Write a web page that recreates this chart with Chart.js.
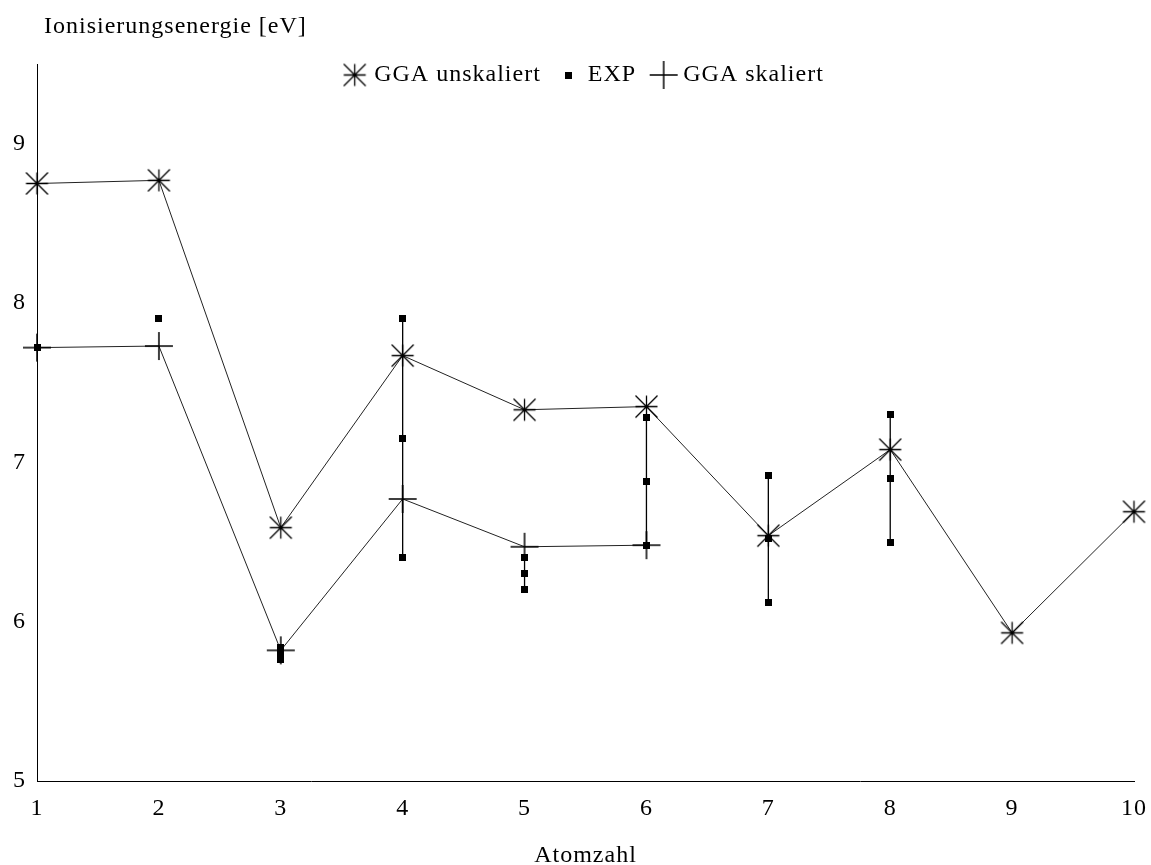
<!DOCTYPE html>
<html lang="de">
<head>
<meta charset="utf-8">
<title>Ionisierungsenergie</title>
<script src="https://cdn.jsdelivr.net/npm/chart.js@4/dist/chart.umd.min.js"></script>
<style>
  html, body { margin: 0; padding: 0; background: #fff; }
  .chart-box { width: 1151px; height: 865px; }
</style>
</head>
<body>
<div class="chart-box"><canvas id="ionChart"></canvas></div>
<script>
const atomNumbers = [1, 2, 3, 4, 5, 6, 7, 8, 9, 10];
const ggaUnscaled = [8.75, 8.77, 6.59, 7.67, 7.33, 7.35, 6.54, 7.08, 5.93, 6.69];
const ggaScaled = [7.72, 7.73, 5.82, 6.77, 6.47, 6.48];
// experimental values, several per atom number (joined by a vertical line)
const expValues = [
  [7.72],
  [7.90],
  [5.84, 5.80, 5.76],
  [7.90, 7.15, 6.40],
  [6.40, 6.30, 6.20],
  [7.28, 6.88, 6.48],
  [6.92, 6.52, 6.12],
  [7.30, 6.90, 6.50],
];
const yTicks = [5, 6, 7, 8, 9];

const FONT = '"Liberation Serif", "Times New Roman", serif';
Chart.defaults.font.family = FONT;
Chart.defaults.font.size = 24;
Chart.defaults.color = "#000";

// small canvases used as point markers (chart and legend)
function makeMarker(size, draw) {
  const c = document.createElement("canvas");
  c.width = size;
  c.height = size;
  const g = c.getContext("2d");
  g.strokeStyle = "#000";
  g.fillStyle = "#000";
  draw(g, size / 2);
  return c;
}
const starMarker = makeMarker(25, (g, c) => {
  const r = 11;
  g.lineWidth = 1.3;
  g.beginPath();
  g.moveTo(c - r, c); g.lineTo(c + r, c);
  g.moveTo(c, c - r); g.lineTo(c, c + r);
  g.moveTo(c - r, c - r); g.lineTo(c + r, c + r);
  g.moveTo(c - r, c + r); g.lineTo(c + r, c - r);
  g.stroke();
});
const plusMarker = makeMarker(30, (g, c) => {
  const r = 14;
  g.lineWidth = 1.5;
  g.beginPath();
  g.moveTo(c - r, c); g.lineTo(c + r, c);
  g.moveTo(c, c - r); g.lineTo(c, c + r);
  g.stroke();
});
const squareMarker = makeMarker(7, (g) => {
  g.fillRect(0, 0, 7, 7);
});

// EXP points, with a null after each atom so only same-atom values get connected
const expPoints = [];
expValues.forEach((vals, i) => {
  vals.forEach((v) => expPoints.push({ x: atomNumbers[i], y: v }));
  expPoints.push({ x: atomNumbers[i], y: null });
});

// letter spacing for all canvas text
const textSpacing = {
  id: "textSpacing",
  beforeUpdate(chart) { chart.ctx.letterSpacing = "1px"; },
  beforeDraw(chart) { chart.ctx.letterSpacing = "1px"; },
};

// move the legend down into the top of the plot area
const legendInPlot = {
  id: "legendInPlot",
  afterLayout(chart, args, opts) {
    const legend = chart.legend;
    const labels = legend.options.labels;
    const dy = opts.centerY - (legend.top + labels.padding + 12);
    legend.top += dy;
    legend.bottom += dy;
  },
};

// horizontal y axis caption above the axis
const yCaption = {
  id: "yCaption",
  afterDraw(chart, args, opts) {
    const ctx = chart.ctx;
    ctx.save();
    ctx.font = "24px " + FONT;
    ctx.fillStyle = "#000";
    ctx.textAlign = "left";
    ctx.textBaseline = "alphabetic";
    ctx.fillText(opts.text, opts.x, opts.y);
    ctx.restore();
  },
};

new Chart("ionChart", {
  type: "line",
  data: {
    datasets: [
      {
        label: "GGA unskaliert",
        data: atomNumbers.map((x, i) => ({ x, y: ggaUnscaled[i] })),
        borderColor: "#222",
        borderWidth: 1,
        pointStyle: starMarker,
        tension: 0,
        clip: false,
      },
      {
        label: "EXP",
        data: expPoints,
        borderColor: "#000",
        borderWidth: 1.3,
        pointStyle: squareMarker,
        spanGaps: false,
        clip: false,
      },
      {
        label: "GGA skaliert",
        data: ggaScaled.map((y, i) => ({ x: atomNumbers[i], y })),
        borderColor: "#222",
        borderWidth: 1,
        pointStyle: plusMarker,
        tension: 0,
        clip: false,
      },
    ],
  },
  options: {
    responsive: true,
    maintainAspectRatio: false,
    animation: false,
    layout: { padding: { top: 10, right: 17, left: 0, bottom: 0 } },
    scales: {
      x: {
        type: "linear",
        min: 1,
        max: 10,
        ticks: { stepSize: 1, padding: 13 },
        grid: { display: false, drawTicks: false },
        border: { color: "#000", width: 1 },
        title: {
          display: true,
          text: "Atomzahl",
          font: { size: 24, lineHeight: 0.75 },
          padding: 0,
        },
        afterFit(scale) {
          scale.height = 84;
          // end labels may hang over the plot edges
          scale.paddingLeft = 0;
          scale.paddingRight = 0;
        },
      },
      y: {
        min: 5,
        max: 9.5,
        afterBuildTicks(scale) {
          scale.ticks = yTicks.map((value) => ({ value }));
        },
        ticks: { padding: 11 },
        grid: { display: false, drawTicks: false },
        border: { color: "#000", width: 1 },
        afterFit(scale) { scale.width = 37; },
      },
    },
    plugins: {
      legend: {
        position: "top",
        fullSize: false,
        labels: {
          usePointStyle: true,
          boxWidth: 15,
          padding: 20,
          font: { size: 24 },
        },
      },
      legendInPlot: { centerY: 75 },
      yCaption: { text: "Ionisierungsenergie [eV]", x: 44, y: 33 },
      tooltip: { enabled: false },
    },
  },
  plugins: [textSpacing, legendInPlot, yCaption],
});
</script>
</body>
</html>
